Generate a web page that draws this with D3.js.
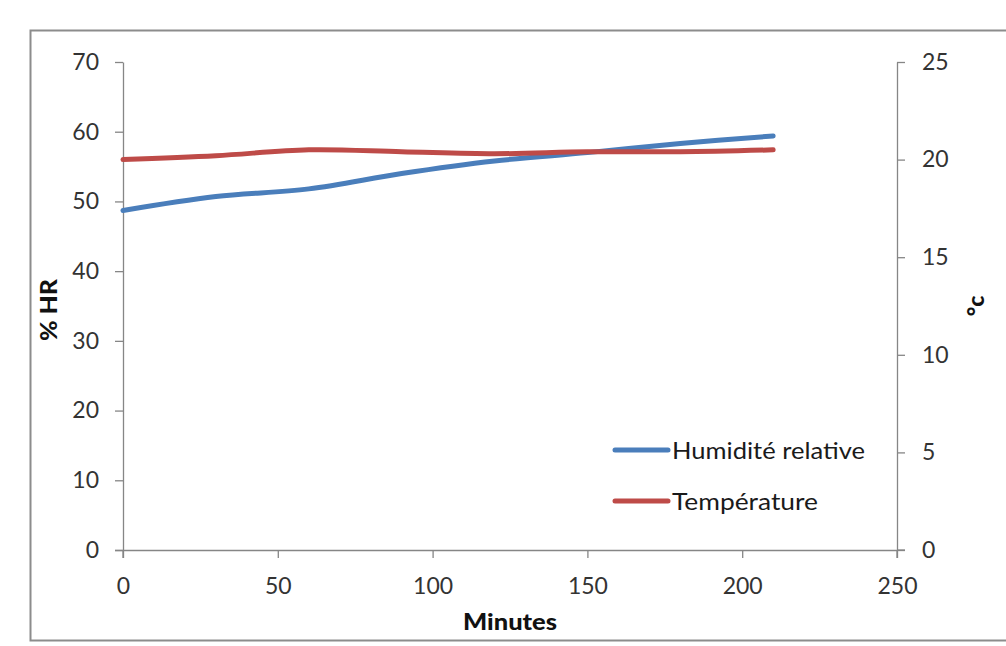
<!DOCTYPE html>
<html><head><meta charset="utf-8">
<script src="https://cdn.jsdelivr.net/npm/d3@7"></script>
<style>
html,body{margin:0;padding:0;background:#fff;}
svg{display:block;}
text{font-family:Lato,"Open Sans",sans-serif;}
</style></head>
<body>
<svg id="c" width="1006" height="646"></svg>
<script>
const minutes = [0, 30, 60, 90, 120, 150, 180, 210];
const humidite = [48.7, 50.7, 51.8, 54.0, 55.8, 57.0, 58.3, 59.4];
const temperature = [20.0, 20.2, 20.5, 20.4, 20.3, 20.4, 20.4, 20.5];
const xTicks = [0, 50, 100, 150, 200, 250];
const yLeftTicks = [0, 10, 20, 30, 40, 50, 60, 70];
const yRightTicks = [0, 5, 10, 15, 20, 25];
const seriesNames = ["Humidité relative", "Température"];
const seriesColors = ["#4a7ebb", "#be4b48"];

const svg = d3.select("#c");
const axisColor = "#868686";
const textColor = "#333";

// outer border
svg.append("rect").attr("x", 30.5).attr("y", 30.5).attr("width", 1000).attr("height", 610)
  .attr("fill", "none").attr("stroke", "#8c8c8c").attr("stroke-width", 2);

const x = d3.scaleLinear().domain([0, 250]).range([123, 897]);
const yL = d3.scaleLinear().domain([0, 70]).range([550, 62]);
const yR = d3.scaleLinear().domain([0, 25]).range([550, 62]);

function styleAxis(g) {
  g.select(".domain").attr("stroke", axisColor).attr("stroke-width", 1.3);
  g.selectAll(".tick line").attr("stroke", axisColor).attr("stroke-width", 1.3);
  g.selectAll(".tick text").attr("fill", textColor).style("font-size", "23px")
    .style("font-family", "Lato, 'Open Sans', sans-serif");
}

const gL = svg.append("g").attr("transform", "translate(123,0)")
  .call(d3.axisLeft(yL).tickValues(yLeftTicks).tickSize(8).tickSizeOuter(0).tickPadding(16));
styleAxis(gL);

const gR = svg.append("g").attr("transform", "translate(897,0)")
  .call(d3.axisRight(yR).tickValues(yRightTicks).tickSize(8).tickSizeOuter(0).tickPadding(17));
styleAxis(gR);

const gX = svg.append("g").attr("transform", "translate(0,550)")
  .call(d3.axisBottom(x).tickValues(xTicks).tickSize(8).tickSizeOuter(0).tickPadding(22));
styleAxis(gX);
gX.select(".domain").attr("d", "M115,0.5H897");
gX.selectAll(".tick text").attr("dy", "0.6em");

// extend vertical axes below zero
svg.append("line").attr("x1", 123).attr("x2", 123).attr("y1", 550).attr("y2", 558)
  .attr("stroke", axisColor).attr("stroke-width", 1.3);
svg.append("line").attr("x1", 897).attr("x2", 897).attr("y1", 550).attr("y2", 558)
  .attr("stroke", axisColor).attr("stroke-width", 1.3);
svg.append("line").attr("x1", 897).attr("x2", 905).attr("y1", 550).attr("y2", 550)
  .attr("stroke", axisColor).attr("stroke-width", 1.3);

// lines
const lineH = d3.line().x((d, i) => x(minutes[i])).y(d => yL(d)).curve(d3.curveCatmullRom.alpha(0.5));
const lineT = d3.line().x((d, i) => x(minutes[i])).y(d => yR(d)).curve(d3.curveCatmullRom.alpha(0.5));

svg.append("path").datum(humidite).attr("d", lineH).attr("fill", "none")
  .attr("stroke", seriesColors[0]).attr("stroke-width", 5).attr("stroke-linecap", "round");
svg.append("path").datum(temperature).attr("d", lineT).attr("fill", "none")
  .attr("stroke", seriesColors[1]).attr("stroke-width", 5).attr("stroke-linecap", "round");

// axis titles
svg.append("text").attr("transform", "translate(57,310) rotate(-90)")
  .attr("text-anchor", "middle").style("font-size", "23px").style("font-weight", "900")
  .attr("textLength", 62).attr("lengthAdjust", "spacingAndGlyphs")
  .attr("fill", "#111").text("% HR");
svg.append("text").attr("transform", "translate(984,306) rotate(-90)")
  .attr("text-anchor", "middle").style("font-size", "23px").style("font-weight", "900")
  .attr("fill", "#111").text("°c");
svg.append("text").attr("x", 510).attr("y", 630)
  .attr("text-anchor", "middle").style("font-size", "23px").style("font-weight", "900")
  .attr("textLength", 94).attr("lengthAdjust", "spacingAndGlyphs")
  .attr("fill", "#111").text("Minutes");

// legend
const legY = [450, 501];
const legW = [193, 146];
seriesNames.forEach((n, i) => {
  svg.append("line").attr("x1", 615).attr("x2", 668).attr("y1", legY[i]).attr("y2", legY[i])
    .attr("stroke", seriesColors[i]).attr("stroke-width", 5).attr("stroke-linecap", "round");
  svg.append("text").attr("x", 672).attr("y", legY[i]).attr("dy", "0.36em")
    .style("font-size", "24px").attr("fill", "#1a1a1a")
    .attr("textLength", legW[i]).attr("lengthAdjust", "spacingAndGlyphs").text(n);
});
</script>
</body></html>
